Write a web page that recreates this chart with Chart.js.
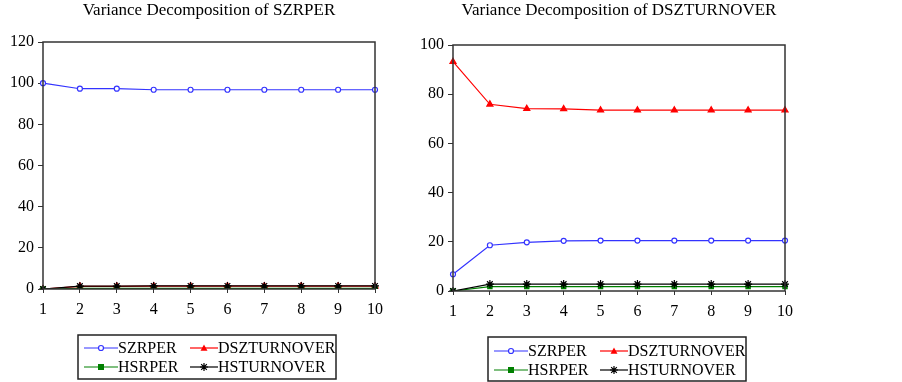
<!DOCTYPE html>
<html>
<head>
<meta charset="utf-8">
<script src="https://cdn.jsdelivr.net/npm/chart.js@4.4.0/dist/chart.umd.min.js"></script>
<style>
  html, body { margin: 0; padding: 0; background: #fff; }
  .box { position: absolute; top: 0; width: 410px; height: 382px; }
</style>
</head>
<body>
<div class="box" style="left:0"><canvas id="c1" width="410" height="382"></canvas></div>
<div class="box" style="left:410px"><canvas id="c2" width="410" height="382"></canvas></div>
<script>
var periods = ['1', '2', '3', '4', '5', '6', '7', '8', '9', '10'];
var seriesNames = ['SZRPER', 'DSZTURNOVER', 'HSRPER', 'HSTURNOVER'];

// Variance decomposition of SZRPER
var szrSzrper = [100, 97.3, 97.3, 96.8, 96.8, 96.8, 96.8, 96.8, 96.8, 96.8];
var szrDszturnover = [0, 1.3, 1.3, 1.4, 1.4, 1.4, 1.4, 1.4, 1.4, 1.4];
var szrHsrper = [0, 0.3, 0.3, 0.3, 0.3, 0.3, 0.3, 0.3, 0.3, 0.3];
var szrHsturnover = [0, 1.4, 1.4, 1.5, 1.5, 1.5, 1.5, 1.5, 1.5, 1.5];
var szrTicks = [0, 20, 40, 60, 80, 100, 120];

// Variance decomposition of DSZTURNOVER
var dszSzrper = [6.8, 18.6, 19.8, 20.4, 20.5, 20.5, 20.5, 20.5, 20.5, 20.5];
var dszDszturnover = [93.2, 75.9, 74.1, 74.0, 73.5, 73.5, 73.5, 73.5, 73.5, 73.5];
var dszHsrper = [0, 1.8, 1.8, 1.8, 1.8, 1.8, 1.8, 1.8, 1.8, 1.8];
var dszHsturnover = [0, 2.8, 2.8, 2.8, 2.8, 2.8, 2.8, 2.8, 2.8, 2.8];
var dszTicks = [0, 20, 40, 60, 80, 100];

var FONT = "'Liberation Serif', 'Times New Roman', serif";
var styles = [
    { color: '#3333ff', point: 'circle', radius: 2.5, fill: '#ffffff', order: 0 },
    { color: '#ff0000', point: 'triangle', radius: 3.5, fill: '#ff0000', order: 3 },
    { color: '#008000', point: 'rect', radius: 3, fill: '#008000', order: 2 },
    { color: '#000000', point: 'star', radius: 4, fill: '#000000', order: 1 }
];

function drawMarker(ctx, st, x, y) {
    ctx.save();
    ctx.fillStyle = st.fill;
    ctx.strokeStyle = st.color;
    ctx.lineWidth = 1.2;
    var r = st.radius;
    ctx.beginPath();
    if (st.point === 'circle') {
        ctx.arc(x, y, r, 0, Math.PI * 2);
        ctx.fill();
        ctx.stroke();
    } else if (st.point === 'triangle') {
        ctx.moveTo(x, y - r);
        ctx.lineTo(x + r, y + r * 0.8);
        ctx.lineTo(x - r, y + r * 0.8);
        ctx.closePath();
        ctx.fill();
    } else if (st.point === 'rect') {
        ctx.rect(x - r, y - r, r * 2, r * 2);
        ctx.fill();
    } else {
        for (var i = 0; i < 4; i++) {
            var a = i * Math.PI / 4;
            ctx.moveTo(x - r * Math.cos(a), y - r * Math.sin(a));
            ctx.lineTo(x + r * Math.cos(a), y + r * Math.sin(a));
        }
        ctx.stroke();
    }
    ctx.restore();
}

// title centred on the plot, frame around the plot area + boxed legend under it
var framePlugin = {
    id: 'frame',
    afterDraw: function (chart) {
        var ctx = chart.ctx;
        var a = chart.chartArea;
        var lg = chart.options.plugins.boxLegend;
        ctx.save();

        ctx.font = '17px ' + FONT;
        ctx.fillStyle = '#000';
        ctx.textAlign = 'center';
        ctx.textBaseline = 'middle';
        ctx.fillText(lg.title, (a.left + a.right) / 2, 11);
        ctx.textAlign = 'left';

        ctx.strokeStyle = '#333';
        ctx.lineWidth = 1.5;
        ctx.strokeRect(a.left, a.top, a.right - a.left, a.bottom - a.top);

        // legend
        var bx = a.left + 35, by = a.bottom + lg.top;
        ctx.strokeStyle = '#222';
        ctx.strokeRect(bx, by, 258, 44);
        var cols = [[6, 40], [112, 140]];
        var rows = [lg.row1, lg.row2];
        ctx.font = '16px ' + FONT;
        chart.data.datasets.forEach(function (ds, i) {
            var st = styles[i];
            var c = cols[i % 2];
            var y = by + rows[Math.floor(i / 2)];
            ctx.strokeStyle = st.color;
            ctx.lineWidth = 1.2;
            ctx.beginPath();
            ctx.moveTo(bx + c[0], y);
            ctx.lineTo(bx + c[1], y);
            ctx.stroke();
            drawMarker(ctx, st, bx + (c[0] + c[1]) / 2, y);
            ctx.fillText(ds.label, bx + c[1], y + 1);
        });
        ctx.restore();
    }
};

function makeChart(id, title, values, ticks, lay) {
    var datasets = values.map(function (vals, i) {
        var st = styles[i];
        return {
            label: seriesNames[i],
            data: vals,
            borderColor: st.color,
            borderWidth: 1.2,
            pointStyle: st.point,
            pointRadius: st.radius,
            pointBackgroundColor: st.fill,
            pointBorderColor: st.color,
            pointBorderWidth: 1.2,
            order: st.order,
            tension: 0
        };
    });
    return new Chart(document.getElementById(id), {
        type: 'line',
        data: { labels: periods, datasets: datasets },
        options: {
            responsive: false,
            animation: false,
            layout: { padding: { left: 0, right: 35, top: lay.top, bottom: lay.bottom } },
            plugins: {
                legend: { display: false },
                tooltip: { enabled: false },
                title: { display: false },
                boxLegend: { title: title, top: lay.legendTop, row1: lay.row1, row2: lay.row2 }
            },
            scales: {
                x: {
                    offset: false,
                    grid: { display: true, drawOnChartArea: false, drawTicks: true, tickLength: 4, color: '#333' },
                    border: { display: false },
                    ticks: { color: '#000', font: { family: FONT, size: 16 }, padding: 7, maxRotation: 0, autoSkip: false },
                    afterFit: function (s) { s.height = 30; }
                },
                y: {
                    min: ticks[0],
                    max: ticks[ticks.length - 1],
                    afterBuildTicks: function (s) { s.ticks = ticks.map(function (v) { return { value: v }; }); },
                    grid: { display: true, drawOnChartArea: false, drawTicks: true, tickLength: 5, color: '#333' },
                    border: { display: false },
                    ticks: { color: '#000', font: { family: FONT, size: 16 }, padding: 4 },
                    afterFit: function (s) { s.width = 43; }
                }
            }
        },
        plugins: [framePlugin]
    });
}

makeChart('c1', 'Variance Decomposition of SZRPER',
    [szrSzrper, szrDszturnover, szrHsrper, szrHsturnover], szrTicks,
    { top: 42, bottom: 63, legendTop: 46, row1: 13, row2: 32 });
makeChart('c2', 'Variance Decomposition of DSZTURNOVER',
    [dszSzrper, dszDszturnover, dszHsrper, dszHsturnover], dszTicks,
    { top: 45, bottom: 61, legendTop: 46, row1: 14, row2: 33 });
</script>
</body>
</html>
